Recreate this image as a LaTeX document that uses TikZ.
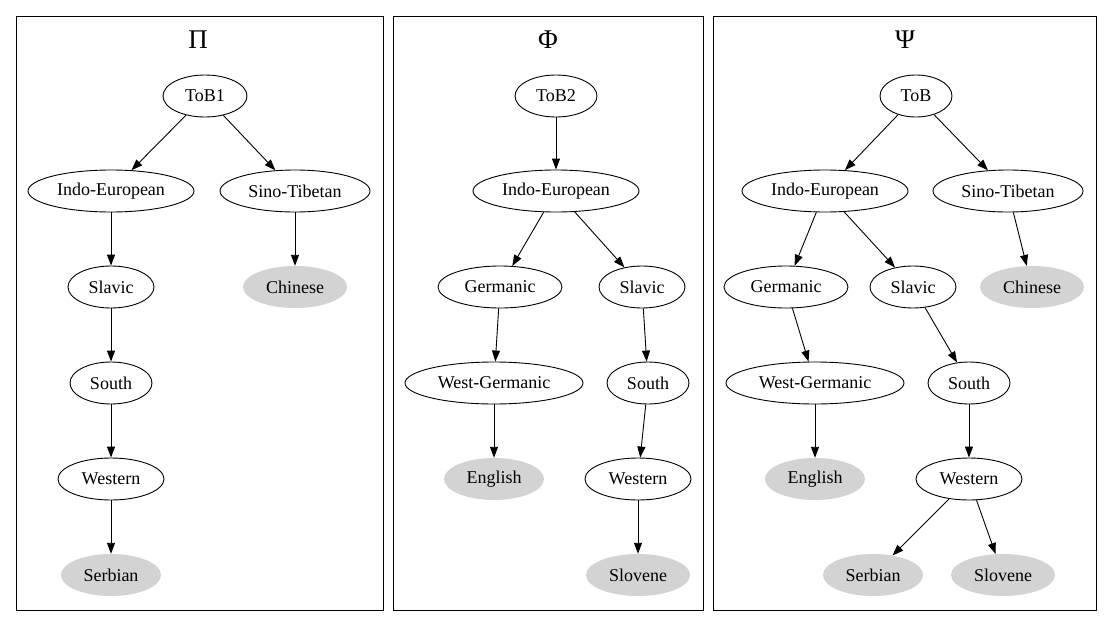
\documentclass[tikz,border=0pt]{standalone}
\usepackage{fontspec}
\setmainfont{Liberation Serif}
\usetikzlibrary{arrows.meta, shapes.geometric}
\definecolor{leafGray}{RGB}{211,211,211}

\begin{document}
\begin{tikzpicture}[
    x=1pt, y=-1pt,
    lang/.style={
      ellipse, draw, line width=0.9pt, inner sep=0pt,
      minimum height=42pt, font=\fontsize{18}{20}\selectfont
    },
    leaf/.style={
      ellipse, fill=leafGray, inner sep=0pt,
      minimum height=42pt, font=\fontsize{18}{20}\selectfont
    },
    w/.style={minimum width=#1pt},
    clus/.style={draw, line width=0.9pt},
    ttl/.style={font=\fontsize{27}{30}\selectfont},
    arr/.style={-{Triangle[length=11pt, width=8pt]}, line width=0.9pt}
  ]
    \useasboundingbox (0,0) rectangle (1112,627);

    % cluster Pi
    \draw[clus] (16,16) rectangle (383,610);
    \node[ttl] (piT) at (198,40) {Π};
    \node[lang, w=84] (tobA) at (205,96) {ToB1};
    \node[lang, w=166] (ieA) at (111,191) {Indo-European};
    \node[lang, w=150] (stA) at (295,191) {Sino-Tibetan};
    \node[lang, w=86] (slA) at (111,287) {Slavic};
    \node[leaf, w=104] (chA) at (295,287) {Chinese};
    \node[lang, w=82] (soA) at (111,383) {South};
    \node[lang, w=106] (weA) at (111,479) {Western};
    \node[leaf, w=100] (srA) at (111,575) {Serbian};

    \draw[arr] (tobA) -- (ieA);
    \draw[arr] (tobA) -- (stA);
    \draw[arr] (ieA) -- (slA);
    \draw[arr] (stA) -- (chA);
    \draw[arr] (slA) -- (soA);
    \draw[arr] (soA) -- (weA);
    \draw[arr] (weA) -- (srA);

    % cluster Phi
    \draw[clus] (393,16) rectangle (703,610);
    \node[ttl] (phiT) at (548,40) {Φ};
    \node[lang, w=82] (tobB) at (556,96) {ToB2};
    \node[lang, w=166] (ieB) at (556,191) {Indo-European};
    \node[lang, w=124] (geB) at (500,287) {Germanic};
    \node[lang, w=86] (slB) at (642,287) {Slavic};
    \node[lang, w=178] (wgB) at (494,383) {West-Germanic};
    \node[lang, w=82] (soB) at (648,383) {South};
    \node[leaf, w=100] (enB) at (494,479) {English};
    \node[lang, w=106] (weB) at (638,479) {Western};
    \node[leaf, w=104] (svB) at (638,575) {Slovene};

    \draw[arr] (tobB) -- (ieB);
    \draw[arr] (ieB) -- (geB);
    \draw[arr] (ieB) -- (slB);
    \draw[arr] (geB) -- (wgB);
    \draw[arr] (slB) -- (soB);
    \draw[arr] (wgB) -- (enB);
    \draw[arr] (soB) -- (weB);
    \draw[arr] (weB) -- (svB);

    % cluster Psi
    \draw[clus] (713,16) rectangle (1096,610);
    \node[ttl] (psiT) at (905,40) {Ψ};
    \node[lang, w=72] (tobC) at (916,96) {ToB};
    \node[lang, w=166] (ieC) at (825,191) {Indo-European};
    \node[lang, w=150] (stC) at (1008,191) {Sino-Tibetan};
    \node[lang, w=124] (geC) at (786,287) {Germanic};
    \node[lang, w=86] (slC) at (913,287) {Slavic};
    \node[leaf, w=104] (chC) at (1032,287) {Chinese};
    \node[lang, w=178] (wgC) at (815,383) {West-Germanic};
    \node[lang, w=82] (soC) at (969,383) {South};
    \node[leaf, w=100] (enC) at (815,479) {English};
    \node[lang, w=106] (weC) at (969,479) {Western};
    \node[leaf, w=100] (srC) at (873,575) {Serbian};
    \node[leaf, w=104] (svC) at (1003,575) {Slovene};

    \draw[arr] (tobC) -- (ieC);
    \draw[arr] (tobC) -- (stC);
    \draw[arr] (ieC) -- (geC);
    \draw[arr] (ieC) -- (slC);
    \draw[arr] (stC) -- (chC);
    \draw[arr] (geC) -- (wgC);
    \draw[arr] (slC) -- (soC);
    \draw[arr] (wgC) -- (enC);
    \draw[arr] (soC) -- (weC);
    \draw[arr] (weC) -- (srC);
    \draw[arr] (weC) -- (svC);
  \end{tikzpicture}
\end{document}
